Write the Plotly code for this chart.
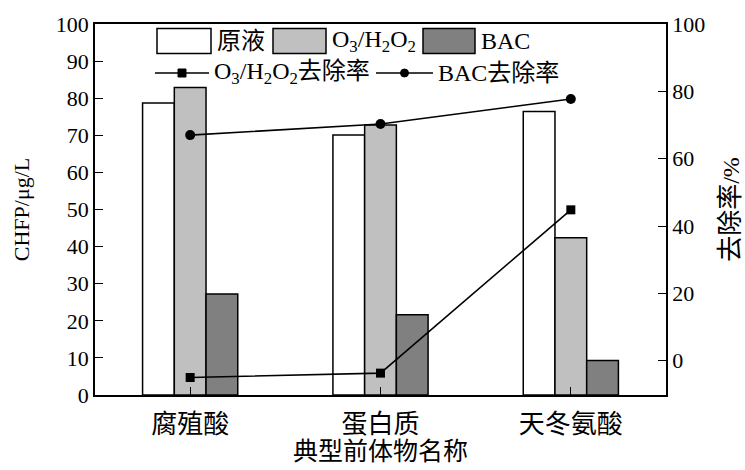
import plotly.graph_objects as go

# ---- data ----
categories = ["腐殖酸", "蛋白质", "天冬氨酸"]
chfp_raw = [78.7, 70.1, 76.4]          # 原液
chfp_o3h2o2 = [82.9, 72.8, 42.4]       # O3/H2O2
chfp_bac = [27.2, 21.6, 9.3]           # BAC
removal_o3h2o2 = [-5.0, -3.7, 44.8]    # O3/H2O2去除率 (%)
removal_bac = [67.0, 70.3, 77.7]       # BAC去除率 (%)

left_ticks = list(range(0, 101, 10))
right_ticks = list(range(0, 101, 20))

FONT = "Liberation Serif, Times New Roman, Noto Sans CJK SC, serif"
FS = 22        # numbers / latin text
FS_CJK = 26    # chinese axis text
FS_LEG = 24    # legend text
W, H = 745, 470
ML, MR, MT, MB = 95, 79, 24, 75
PW, PH = W - ML - MR, H - MT - MB

fig = go.Figure()

bar_style = dict(line=dict(color="black", width=1.5))
fig.add_trace(go.Bar(x=categories, y=chfp_raw, name="原液",
                     marker=dict(color="white", **bar_style)))
fig.add_trace(go.Bar(x=categories, y=chfp_o3h2o2, name="O<sub>3</sub>/H<sub>2</sub>O<sub>2</sub>",
                     marker=dict(color="#c0c0c0", **bar_style)))
fig.add_trace(go.Bar(x=categories, y=chfp_bac, name="BAC",
                     marker=dict(color="#808080", **bar_style)))

fig.add_trace(go.Scatter(x=categories, y=removal_o3h2o2, yaxis="y2", mode="lines+markers",
                         line=dict(color="black", width=1.6),
                         marker=dict(symbol="square", size=9, color="black"),
                         name="O3/H2O2去除率"))
fig.add_trace(go.Scatter(x=categories, y=removal_bac, yaxis="y2", mode="lines+markers",
                         line=dict(color="black", width=1.6),
                         marker=dict(symbol="circle", size=10, color="black"),
                         name="BAC去除率"))


def px(x):
    return (x - ML) / PW


def py(y):
    return (H - MB - y) / PH


# ---- hand-drawn legend (two rows) ----
shapes = []
annotations = []
row1_y = 41
box_h = 25
for x0, x1, fill, label in [
    (157, 211, "white", "原液"),
    (273, 326, "#c0c0c0", "O<sub>3</sub>/H<sub>2</sub>O<sub>2</sub>"),
    (423, 475, "#808080", "BAC"),
]:
    shapes.append(dict(type="rect", xref="paper", yref="paper",
                       x0=px(x0), x1=px(x1), y0=py(row1_y + box_h / 2), y1=py(row1_y - box_h / 2),
                       line=dict(color="black", width=1.5), fillcolor=fill, layer="above"))
    annotations.append(dict(xref="paper", yref="paper", x=px(x1 + 4), y=py(row1_y),
                            xanchor="left", yanchor="middle", text=label, showarrow=False,
                            font=dict(family=FONT, size=FS_LEG, color="black")))

row2_y = 73
for x0, x1, sym, label in [
    (155, 209, "square", "O<sub>3</sub>/H<sub>2</sub>O<sub>2</sub>去除率"),
    (376, 433, "circle", "BAC去除率"),
]:
    shapes.append(dict(type="line", xref="paper", yref="paper",
                       x0=px(x0), x1=px(x1), y0=py(row2_y), y1=py(row2_y),
                       line=dict(color="black", width=1.5), layer="above"))
    cx = (x0 + x1) / 2
    r = 4
    shapes.append(dict(type="rect" if sym == "square" else "circle", xref="paper", yref="paper",
                       x0=px(cx - r), x1=px(cx + r), y0=py(row2_y + r), y1=py(row2_y - r),
                       line=dict(color="black", width=1), fillcolor="black", layer="above"))
    annotations.append(dict(xref="paper", yref="paper", x=px(x1 + 3), y=py(row2_y),
                            xanchor="left", yanchor="middle", text=label, showarrow=False,
                            font=dict(family=FONT, size=FS_LEG, color="black")))

num_font = dict(family=FONT, size=FS, color="black")
cjk_font = dict(family=FONT, size=FS_CJK, color="black")

# x-axis title placed as an annotation below the category labels
annotations.append(dict(xref="paper", yref="paper", x=0.5, y=py(451),
                        xanchor="center", yanchor="middle", text="典型前体物名称",
                        showarrow=False, font=dict(family=FONT, size=25, color="black")))

fig.update_layout(
    width=W, height=H,
    margin=dict(l=ML, r=MR, t=MT, b=MB, pad=0),
    paper_bgcolor="white", plot_bgcolor="white",
    barmode="group", bargap=0.5, bargroupgap=0,
    showlegend=False,
    font=num_font,
    shapes=shapes,
    annotations=annotations,
    xaxis=dict(
        range=[-0.5, 2.5], showline=True, linecolor="black", linewidth=1.5, mirror=True,
        ticks="inside", ticklen=8, tickwidth=1, tickcolor="black",
        tickfont=cjk_font, ticklabelstandoff=5, showgrid=False, zeroline=False,
        automargin=False,
    ),
    yaxis=dict(
        range=[0, 100], tickvals=left_ticks, showline=True, linecolor="black", linewidth=1.5,
        ticks="inside", ticklen=8, tickwidth=1, tickcolor="black",
        tickfont=num_font, showgrid=False, zeroline=False, automargin=False,
        title=dict(text="CHFP/μg/L", font=num_font, standoff=20),
    ),
    yaxis2=dict(
        overlaying="y", side="right", range=[-10.2, 100], tickvals=right_ticks,
        showline=True, linecolor="black", linewidth=1.5,
        ticks="inside", ticklen=8, tickwidth=1, tickcolor="black",
        tickfont=num_font, showgrid=False, zeroline=False, automargin=False,
        title=dict(text=f"<span style='font-size:{FS_CJK}px'>去除率</span>/%",
                   font=dict(family=FONT, size=24, color="black"), standoff=24),
    ),
)

fig.write_html("out.html")
